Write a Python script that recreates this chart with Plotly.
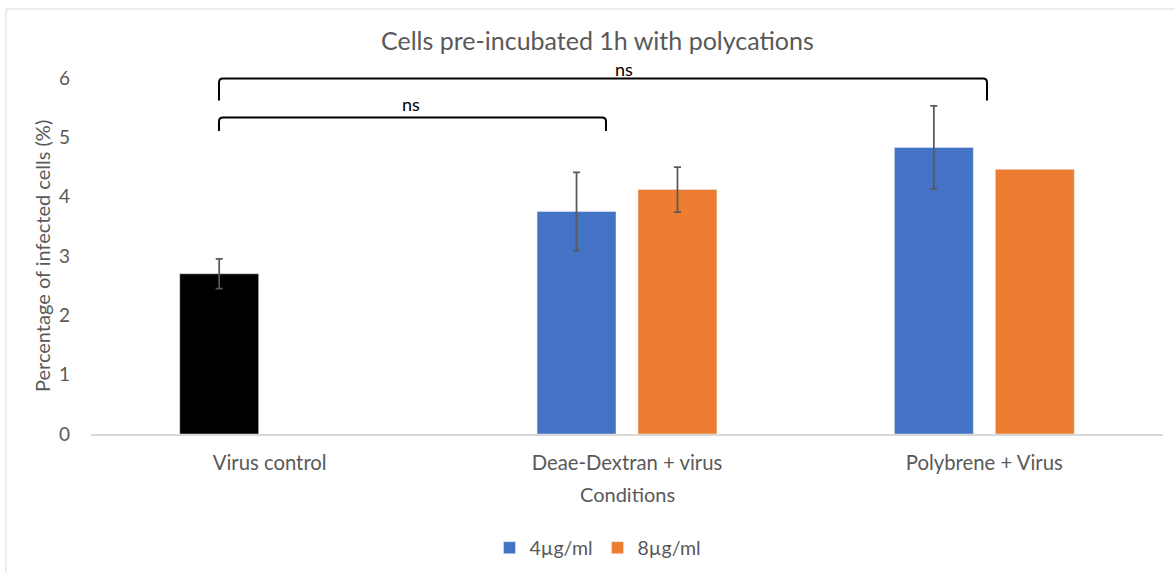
import plotly.graph_objects as go

# Conditions on the category axis
categories = ["Virus control", "Deae-Dextran + virus", "Polybrene + Virus"]

# Percentage of infected cells (mean) and error (±)
control_value = [2.70]
control_err = [0.25]

low_dose_cats = ["Deae-Dextran + virus", "Polybrene + Virus"]
low_dose_values = [3.75, 4.83]
low_dose_err = [0.66, 0.70]

high_dose_cats = ["Deae-Dextran + virus", "Polybrene + Virus"]
high_dose_values = [4.12, 4.46]
high_dose_err = [0.38, None]

y_ticks = [0, 1, 2, 3, 4, 5, 6]

FONT = "Lato"
TXT = "#595959"
W, H = 1175, 573
L, R, T, B = 91, 12, 78, 139
PW, PH = W - L - R, H - T - B


def px(x):
    return (x - L) / PW


def py(y):
    return (H - B - y) / PH


err_style = dict(type="data", color="#595959", thickness=1.75, width=3.5)

fig = go.Figure()
fig.add_trace(go.Bar(
    x=categories[:1], y=control_value, offsetgroup="low",
    marker=dict(color="#000000"), showlegend=False,
    error_y=dict(array=control_err, **err_style),
))
fig.add_trace(go.Bar(
    x=low_dose_cats, y=low_dose_values, name="4µg/ml", offsetgroup="low",
    marker=dict(color="#4472C4"),
    error_y=dict(array=low_dose_err, **err_style),
))
# 8 µg/ml: one bar per trace so points without an error value get no whisker
first = True
for cat, val, err in zip(high_dose_cats, high_dose_values, high_dose_err):
    kw = {}
    if err is not None:
        kw["error_y"] = dict(array=[err], **err_style)
    fig.add_trace(go.Bar(
        x=[cat], y=[val], name="8µg/ml", offsetgroup="high",
        legendgroup="high", showlegend=first,
        marker=dict(color="#ED7D31"), **kw,
    ))
    first = False


def bracket(x0, x1, ytop, ybot, r=4):
    a, b = px(x0), px(x1)
    t, bt = py(ytop), py(ybot)
    rx, ry = r / PW, r / PH
    return (f"M {a},{bt} L {a},{t - ry} Q {a},{t} {a + rx},{t} "
            f"L {b - rx},{t} Q {b},{t} {b},{t - ry} L {b},{bt}")


shapes = [
    dict(type="rect", xref="paper", yref="paper",
         x0=px(6), x1=px(1185), y0=py(585), y1=py(9),
         line=dict(color="#d9d9d9", width=1), layer="below"),
    dict(type="path", xref="paper", yref="paper",
         path=bracket(219, 606, 117.5, 131), line=dict(color="black", width=2)),
    dict(type="path", xref="paper", yref="paper",
         path=bracket(219, 987, 78.5, 100.5), line=dict(color="black", width=2)),
]


def label(text, x, y, size, color=TXT, angle=0):
    return dict(text=text, x=px(x), y=py(y), xref="paper", yref="paper",
                xanchor="center", yanchor="middle", showarrow=False,
                textangle=angle, font=dict(family=FONT, size=size, color=color))


annotations = [
    label("Cells pre-incubated 1h with polycations", 597, 40, 25),
    label("ns", 411, 104, 18, "#000000"),
    label("ns", 624, 69, 18, "#000000"),
    label("Conditions", 627, 494, 20),
    label("Percentage of infected cells (%)", 42, 256, 20, angle=-90),
]

fig.update_layout(
    width=W, height=H,
    margin=dict(l=L, r=R, t=T, b=B, autoexpand=False),
    paper_bgcolor="white", plot_bgcolor="white",
    barmode="group", bargap=0.435, bargroupgap=0.218,
    font=dict(family=FONT, size=18, color=TXT),
    showlegend=True,
    legend=dict(orientation="h", xref="container", yref="container",
                x=598 / W, xanchor="center",
                y=1 - 548 / H, yanchor="middle",
                font=dict(family=FONT, size=19.5, color=TXT),
                itemwidth=30, traceorder="normal"),
    shapes=shapes, annotations=annotations,
    xaxis=dict(categoryorder="array", categoryarray=categories,
               showline=True, linecolor="#d9d9d9", linewidth=1.5,
               showgrid=False, ticks="", ticklabelstandoff=10,
               automargin=False,
               tickfont=dict(family=FONT, size=20.3, color=TXT)),
    yaxis=dict(range=[0, 6], tickvals=y_ticks, showgrid=False,
               zeroline=False, showline=False, ticks="",
               ticklabelstandoff=20, automargin=False,
               tickfont=dict(family=FONT, size=19, color=TXT)),
)

fig.write_html("out.html")
